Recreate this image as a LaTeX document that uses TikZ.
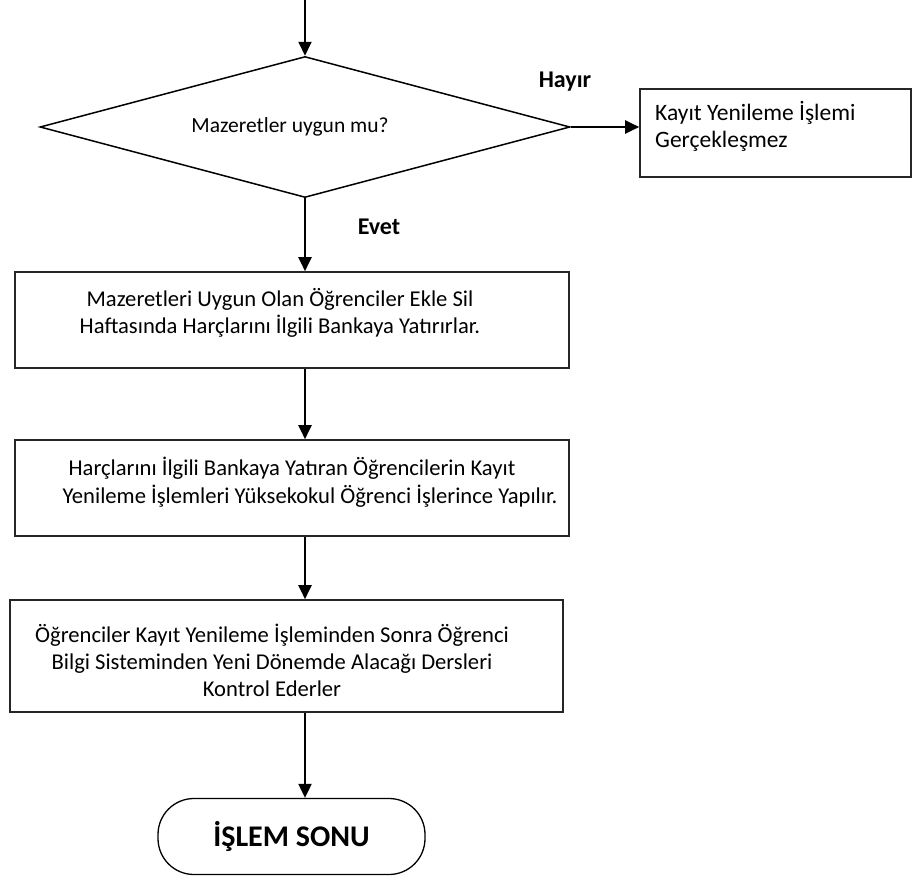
\documentclass[tikz,border=0pt]{standalone}
\usepackage{fontspec}
\setmainfont{Carlito}
\usetikzlibrary{arrows.meta,shapes.geometric}
\begin{document}
\begin{tikzpicture}[x=1pt,y=-1pt,
  flow/.style={line width=2pt,-{Triangle[length=14pt,width=13pt]}},
  stepbox/.style={draw=black!85,line width=1.6pt,rectangle,inner sep=0pt},
  decision/.style={draw,line width=1.5pt,diamond,inner sep=0pt},
  terminal/.style={draw,line width=1.3pt,rectangle,rounded corners=36pt,inner sep=0pt,
    font=\fontsize{30}{34}\selectfont\bfseries},
  txt/.style={font=\fontsize{22.6}{27}\selectfont,align=center,inner sep=0pt},
  lefttxt/.style={font=\fontsize{23.5}{27}\selectfont,align=left,inner sep=0pt,anchor=west},
  lbl/.style={font=\fontsize{24}{28}\selectfont\bfseries,inner sep=0pt}]
\useasboundingbox (0,0) rectangle (913,881);

% decision
\node[decision,minimum width=530pt,minimum height=141pt] (dia) at (305,127) {};
\node[txt,font=\fontsize{21.5}{27}\selectfont] (diatxt) at (290,127) {Mazeretler uygun mu?};
\node[lbl] (hayir) at (565,82) {Hayır};
\node[lbl] (evet) at (379,227) {Evet};

% negative outcome
\node[stepbox,minimum width=271pt,minimum height=88pt] (kayit) at (775.5,133) {};
\node[lefttxt] (kayittxt) at (655,126.5) {Kayıt Yenileme İşlemi\\Gerçekleşmez};

% process steps
\node[stepbox,minimum width=554pt,minimum height=96pt] (box1) at (292,320) {};
\node[txt] (box1txt) at (280,312.5) {Mazeretleri Uygun Olan Öğrenciler Ekle Sil\\Haftasında Harçlarını İlgili Bankaya Yatırırlar.};

\node[stepbox,minimum width=554pt,minimum height=96pt] (box2) at (292,488) {};
\node[txt] (box2a) at (292,468) {Harçlarını İlgili Bankaya Yatıran Öğrencilerin Kayıt};
\node[txt] (box2b) at (310,496) {Yenileme İşlemleri Yüksekokul Öğrenci İşlerince Yapılır.};

\node[stepbox,minimum width=553pt,minimum height=112pt] (box3) at (286.5,656) {};
\node[txt] (box3txt) at (272,660) {Öğrenciler Kayıt Yenileme İşleminden Sonra Öğrenci\\Bilgi Sisteminden Yeni Dönemde Alacağı Dersleri\\Kontrol Ederler};

% end
\node[terminal,minimum width=267pt,minimum height=76pt] (end) at (291.5,836.5) {İŞLEM SONU};

% connectors
\coordinate (start) at (305,0);
\draw[flow] (start) -- (dia.north);
\draw[flow] (dia.east) -- (dia.east -| kayit.west);
\draw[flow] (dia.south) -- (dia.south |- box1.north);
\draw[flow] (dia.south |- box1.south) -- (dia.south |- box2.north);
\draw[flow] (dia.south |- box2.south) -- (dia.south |- box3.north);
\draw[flow] (dia.south |- box3.south) -- (dia.south |- end.north);
\end{tikzpicture}
\end{document}
